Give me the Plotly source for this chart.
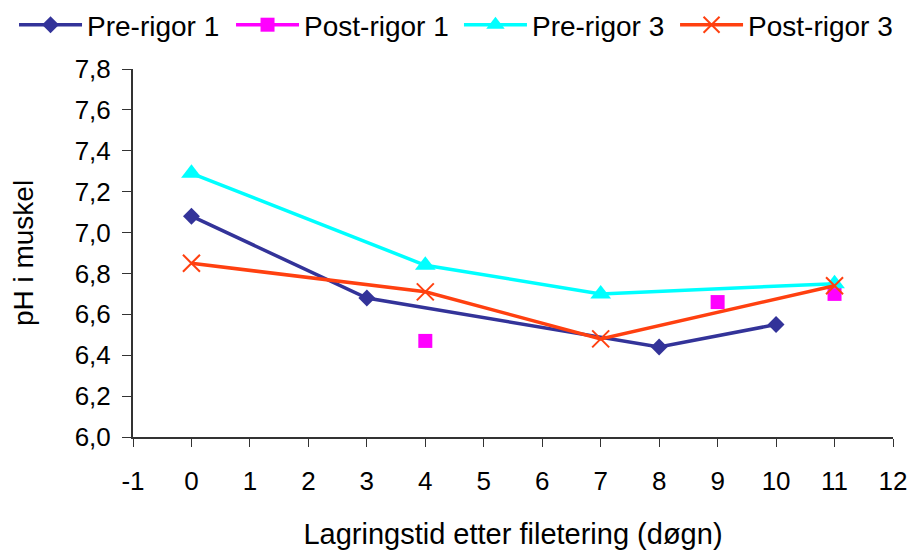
import plotly.graph_objects as go

pre1_x = [0, 3, 8, 10]
pre1_y = [7.08, 6.68, 6.44, 6.55]
post1_x = [4, None, 9, None, 11]
post1_y = [6.47, None, 6.66, None, 6.70]
pre3_x = [0, 4, 7, 11]
pre3_y = [7.29, 6.84, 6.70, 6.75]
post3_x = [0, 4, 7, 11]
post3_y = [6.85, 6.71, 6.48, 6.74]

x_ticks = list(range(-1, 13))
x_labels = [str(v) for v in x_ticks]  # hyphen-minus like reference
y_ticks = [6.0, 6.2, 6.4, 6.6, 6.8, 7.0, 7.2, 7.4, 7.6, 7.8]
y_labels = [f"{v:.1f}".replace(".", ",") for v in y_ticks]

font = "Liberation Sans, Arial, sans-serif"

fig = go.Figure()
fig.add_trace(go.Scatter(x=pre1_x, y=pre1_y, name="Pre-rigor 1", mode="lines+markers",
                         legend="legend",
                         line=dict(color="#333399", width=3.5),
                         marker=dict(symbol="diamond", size=13, color="#333399")))
fig.add_trace(go.Scatter(x=post1_x, y=post1_y, name="Post-rigor 1", mode="lines+markers",
                         connectgaps=False, legend="legend2",
                         line=dict(color="#FF00FF", width=3.5),
                         marker=dict(symbol="square", size=14, color="#FF00FF")))
fig.add_trace(go.Scatter(x=pre3_x, y=pre3_y, name="Pre-rigor 3", mode="lines+markers",
                         legend="legend3",
                         line=dict(color="#00FFFF", width=3.5),
                         marker=dict(symbol="triangle-up", size=18, color="#00FFFF")))
fig.add_trace(go.Scatter(x=post3_x, y=post3_y, name="Post-rigor 3", mode="lines+markers",
                         legend="legend4",
                         line=dict(color="#FF4010", width=3.5),
                         marker=dict(symbol="x-thin-open", size=17, line=dict(color="#FF4010", width=2))))

def leg(x):
    return dict(orientation="h", x=x, xref="container", y=1.0, yref="container",
                yanchor="top", xanchor="left", font=dict(size=28), itemwidth=63,
                bgcolor="rgba(0,0,0,0)")

fig.update_layout(
    width=911, height=550,
    margin=dict(l=133, r=18, t=69, b=113),
    paper_bgcolor="white", plot_bgcolor="white",
    font=dict(family=font, size=26, color="black"),
    showlegend=True,
    legend=leg(0.0154),
    legend2=leg(0.2536),
    legend3=leg(0.5038),
    legend4=leg(0.7410),
    xaxis=dict(range=[-1, 12], tickmode="array", tickvals=x_ticks, ticktext=x_labels,
               showgrid=False, zeroline=False, showline=True, linecolor="#333",
               linewidth=2, ticks="outside", ticklen=8, tickcolor="#333",
               ticklabelstandoff=12, tickfont=dict(size=26), automargin=False,
               title=dict(text="Lagringstid etter filetering (døgn)", standoff=35,
                          font=dict(size=29))),
    yaxis=dict(range=[6.0, 7.8], tickmode="array", tickvals=y_ticks, ticktext=y_labels,
               showgrid=False, zeroline=False, showline=True, linecolor="#333",
               linewidth=2, ticks="outside", ticklen=9, tickcolor="#333",
               ticklabelstandoff=6, tickfont=dict(size=26), automargin=False,
               title=dict(text="pH i muskel", standoff=33, font=dict(size=28))),
)

fig.write_html("out.html")
